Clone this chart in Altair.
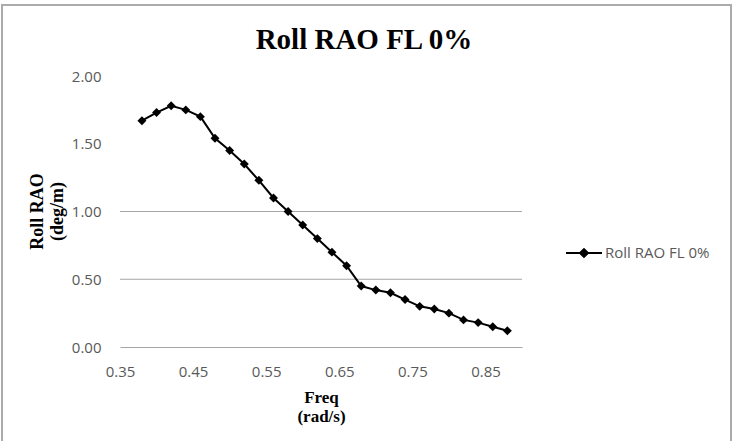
import altair as alt
import pandas as pd

series_name = "Roll RAO FL 0%"
freq = [0.38, 0.40, 0.42, 0.44, 0.46, 0.48, 0.50, 0.52, 0.54, 0.56, 0.58, 0.60, 0.62,
        0.64, 0.66, 0.68, 0.70, 0.72, 0.74, 0.76, 0.78, 0.80, 0.82, 0.84, 0.86, 0.88]
rao = [1.67, 1.73, 1.78, 1.75, 1.70, 1.54, 1.45, 1.35, 1.23, 1.10, 1.00, 0.90, 0.80,
       0.70, 0.60, 0.45, 0.42, 0.40, 0.35, 0.30, 0.28, 0.25, 0.20, 0.18, 0.15, 0.12]
x_ticks = [0.35, 0.45, 0.55, 0.65, 0.75, 0.85]
y_ticks = [0.0, 0.5, 1.0, 1.5, 2.0]
grid_values = [0.5, 1.0]

df = pd.DataFrame({"freq": freq, "rao": rao, "series": [series_name] * len(freq)})
grid_df = pd.DataFrame({"g": grid_values})

W, H = 402, 271

xscale = alt.Scale(domain=[0.35, 0.90], nice=False, zero=False)
yscale = alt.Scale(domain=[0, 2], nice=False)

y_axis = alt.Axis(values=y_ticks, format=".2f", title=["Roll RAO", "(deg/m)"],
                  grid=False, ticks=False, domain=False, labelPadding=19,
                  labelFont="Open Sans", labelFontSize=15, labelColor="#595959",
                  titleFont="Liberation Serif", titleFontSize=18,
                  titleFontWeight="bold", titleColor="black",
                  titleAngle=-90, titleAlign="center", titleBaseline="top",
                  titleX=-92, titleY=135, titleLineHeight=20)

frame = alt.Chart(pd.DataFrame({"a": [0]})).mark_rect(
    fill=None, stroke="#ababab", strokeWidth=2
).encode(
    x=alt.value(-118), x2=alt.value(611), y=alt.value(-71), y2=alt.value(380)
)

grid = alt.Chart(grid_df).mark_rule(color="#a6a6a6", strokeWidth=1).encode(
    y=alt.Y("g:Q", scale=yscale, axis=y_axis)
)

line = alt.Chart(df).mark_line(
    strokeWidth=2,
    point=alt.OverlayMarkDef(shape="diamond", size=80, filled=True, color="black"),
).encode(
    x=alt.X("freq:Q", scale=xscale,
            axis=alt.Axis(values=x_ticks, format=".2f", title=["Freq", "(rad/s)"],
                          grid=False, ticks=False, domain=True, domainColor="#a6a6a6",
                          domainWidth=1, labelPadding=17, labelFlush=False,
                          labelFont="Open Sans", labelFontSize=15, labelColor="#595959",
                          titleFont="Liberation Serif", titleFontSize=17,
                          titleFontWeight="bold", titleColor="black",
                          titleLineHeight=19, titlePadding=10)),
    y=alt.Y("rao:Q", scale=yscale, axis=y_axis),
    color=alt.Color("series:N", scale=alt.Scale(domain=[series_name], range=["black"]),
                    legend=alt.Legend(title=None, orient="none", legendX=445, legendY=158,
                                      symbolType="M-1,0L1,0M-0.22,0L0,-0.22L0.22,0L0,0.22Z",
                                      symbolSize=1296, symbolStrokeWidth=2,
                                      symbolStrokeColor="black", symbolFillColor="black",
                                      labelFont="Open Sans", labelFontSize=15,
                                      labelColor="#595959", labelOffset=2, padding=0)),
)

chart = alt.layer(frame, grid, line).properties(
    width=W, height=H,
    title=alt.TitleParams(series_name, font="Liberation Serif", fontSize=29,
                          fontWeight="bold", color="black", anchor="middle", dx=43,
                          baseline="alphabetic", offset=-74),
    autosize=alt.AutoSizeParams(type="none"),
    padding={"left": 120, "top": 76, "right": 220, "bottom": 94},
).configure(background="white", view=alt.ViewConfig(stroke=None))

chart.save("out.html", embed_options={"renderer": "svg", "actions": False})
